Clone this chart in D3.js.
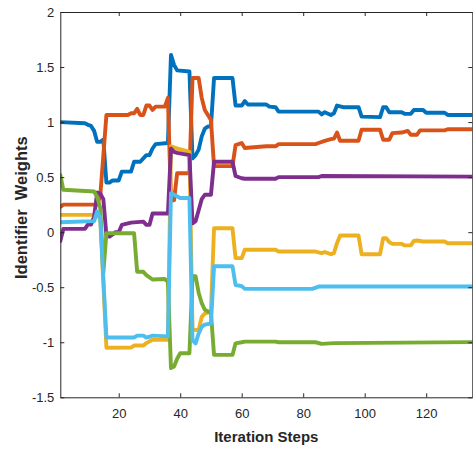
<!DOCTYPE html>
<html>
<head>
<meta charset="utf-8">
<script src="https://cdn.jsdelivr.net/npm/d3@7"></script>
<style>
  html, body { margin: 0; padding: 0; background: #fff; }
  svg { display: block; }
  text { font-family: "Liberation Sans", Arial, sans-serif; fill: #262626; }
</style>
</head>
<body>
<svg id="chart" width="473" height="450"></svg>
<script>
// ---------- data ----------
const xDomain = [1, 135];
const yDomain = [-1.5, 2];
const xTicks = [20, 40, 60, 80, 100, 120];
const xTickLabels = ["20", "40", "60", "80", "100", "120"];
const yTicks = [-1.5, -1, -0.5, 0, 0.5, 1, 1.5, 2];
const yTickLabels = ["-1.5", "-1", "-0.5", "0", "0.5", "1", "1.5", "2"];
const xLabel = "Iteration Steps";
const yLabel = "Identifier  Weights";

const seriesNames = ["w1", "w2", "w3", "w4", "w5", "w6"];
const seriesColors = ["#0072BD", "#D95319", "#EDB120", "#7E2F8E", "#77AC30", "#4DBEEE"];

// [iteration step, weight]
const w1 = [[1,1.00],[9,0.99],[10,0.975],[11,0.965],[12,0.92],[13,0.82],[14,0.82],[15,0.84],[16,0.45],[17,0.45],[18,0.47],[20,0.47],[21,0.55],[24,0.55],[25,0.64],[27,0.64],[28,0.67],[29,0.70],[30,0.70],[31,0.76],[32,0.80],[36,0.81],[37,1.61],[38,1.52],[39,1.47],[43,1.46],[44,0.67],[45,0.70],[46,0.75],[47,0.87],[48,0.94],[49,0.96],[50,0.96],[51,1.40],[57,1.40],[58,1.15],[60,1.15],[61,1.19],[62,1.16],[68,1.16],[69,1.14],[71,1.135],[72,1.095],[85,1.095],[86,1.07],[87,1.09],[89,1.065],[90,1.08],[91,1.15],[93,1.135],[98,1.135],[99,1.05],[105,1.045],[106,1.135],[107,1.135],[108,1.09],[112,1.09],[113,1.075],[115,1.075],[116,1.11],[119,1.11],[120,1.085],[126,1.085],[127,1.065],[135,1.065]];
const w2 = [[1,0.23],[2,0.25],[13,0.25],[14,0.33],[16,1.065],[23,1.065],[24,1.08],[25,1.08],[26,1.12],[27,1.065],[28,1.065],[29,1.15],[30,1.15],[31,1.11],[32,1.14],[35,1.14],[36,1.22],[37,0.29],[38,0.29],[39,0.535],[43,0.535],[44,1.40],[46,1.40],[47,1.22],[48,1.11],[49,1.065],[50,1.02],[51,0.60],[57,0.60],[58,0.79],[60,0.81],[61,0.765],[68,0.78],[71,0.78],[72,0.80],[84,0.80],[85,0.81],[87,0.83],[89,0.845],[90,0.85],[91,0.905],[92,0.83],[98,0.83],[99,0.93],[105,0.93],[106,0.84],[108,0.84],[109,0.90],[112,0.905],[114,0.92],[115,0.885],[117,0.885],[118,0.925],[126,0.925],[127,0.935],[135,0.935]];
const w3 = [[1,0.157],[13,0.157],[14,0.12],[16,-1.05],[24,-1.048],[25,-1.03],[28,-1.03],[29,-1.008],[31,-0.978],[36,-0.978],[37,0.78],[38,0.77],[39,0.76],[43,0.73],[44,-0.887],[46,-0.89],[47,-0.77],[48,-0.74],[50,-0.72],[51,0.036],[57,0.036],[58,-0.236],[60,-0.236],[61,-0.16],[71,-0.16],[72,-0.176],[84,-0.176],[86,-0.19],[87,-0.18],[89,-0.20],[90,-0.19],[91,-0.1],[92,-0.03],[98,-0.03],[99,-0.20],[105,-0.20],[106,-0.055],[107,-0.055],[108,-0.09],[109,-0.106],[112,-0.106],[113,-0.12],[115,-0.12],[116,-0.08],[117,-0.076],[119,-0.085],[126,-0.085],[127,-0.10],[135,-0.10]];
const w4 = [[1,-0.08],[2,0.03],[9,0.03],[10,0.07],[11,0.07],[12,0.14],[13,0.36],[14,0.35],[15,0.30],[16,-0.03],[17,-0.04],[19,0.0],[20,0.0],[21,0.066],[24,0.087],[28,0.096],[29,0.066],[30,0.066],[31,0.17],[36,0.17],[37,0.76],[38,0.73],[39,0.72],[43,0.70],[44,0.08],[45,0.10],[46,0.20],[47,0.30],[48,0.34],[50,0.34],[51,0.64],[57,0.64],[58,0.51],[60,0.49],[61,0.485],[71,0.485],[72,0.50],[85,0.50],[86,0.51],[135,0.505]];
const w5 = [[1,0.52],[2,0.385],[12,0.37],[13,0.32],[14,0.22],[15,-0.37],[16,-0.01],[25,-0.01],[26,-0.36],[28,-0.36],[29,-0.39],[31,-0.43],[35,-0.425],[36,-0.45],[37,-1.235],[38,-1.22],[39,-1.15],[40,-1.10],[43,-1.10],[44,-0.40],[45,-0.40],[46,-0.55],[47,-0.645],[48,-0.705],[50,-0.735],[51,-1.115],[57,-1.115],[58,-1.01],[60,-1.0],[61,-0.994],[71,-0.994],[72,-1.0],[84,-1.0],[86,-1.015],[90,-1.008],[135,-0.999]];
const w6 = [[1,0.09],[12,0.10],[13,0.19],[14,0.13],[16,-0.957],[25,-0.957],[26,-0.94],[28,-0.94],[29,-0.957],[30,-0.95],[31,-0.94],[36,-0.947],[37,0.355],[38,0.34],[40,0.31],[43,0.31],[44,-0.98],[45,-1.01],[46,-0.92],[47,-0.86],[48,-0.84],[50,-0.83],[51,-0.31],[57,-0.31],[58,-0.48],[60,-0.49],[61,-0.515],[83,-0.515],[85,-0.494],[135,-0.494]];

const seriesData = [w1, w2, w3, w4, w5, w6];

// ---------- layout ----------
const plotL = 60.3, plotR = 472.3, plotT = 12, plotB = 397.3;
const axisColor = "#262626";

const svg = d3.select("#chart");
const x = d3.scaleLinear().domain(xDomain).range([plotL, plotR]);
const y = d3.scaleLinear().domain(yDomain).range([plotB, plotT]);

// clip
svg.append("defs").append("clipPath").attr("id", "plotclip")
  .append("rect").attr("x", plotL).attr("y", plotT).attr("width", plotR - plotL).attr("height", plotB - plotT);

// lines
const line = d3.line().x(d => x(d[0])).y(d => y(d[1]));
svg.append("g").attr("clip-path", "url(#plotclip)")
  .selectAll("path").data(seriesData).join("path")
  .attr("d", line)
  .attr("fill", "none")
  .attr("stroke", (d, i) => seriesColors[i])
  .attr("stroke-width", 3.9)
  .attr("stroke-linejoin", "round")
  .attr("stroke-linecap", "round");

// axes
function styleAxis(g) {
  g.selectAll(".domain").attr("stroke", axisColor).attr("stroke-width", 1);
  g.selectAll(".tick line").attr("stroke", axisColor).attr("stroke-width", 1);
  g.selectAll(".tick text").attr("fill", axisColor)
    .style("font-family", '"Liberation Sans", Arial, sans-serif').style("font-size", "13px");
}

const xAxis = d3.axisBottom(x).tickValues(xTicks)
  .tickFormat((d, i) => xTickLabels[i]).tickSizeInner(-4).tickSizeOuter(0).tickPadding(11);
svg.append("g").attr("transform", `translate(0,${plotB})`).call(xAxis).call(styleAxis);

const xAxisTop = d3.axisTop(x).tickValues(xTicks).tickFormat("").tickSizeInner(-4).tickSizeOuter(0);
svg.append("g").attr("transform", `translate(0,${plotT})`).call(xAxisTop).call(styleAxis);

const yAxis = d3.axisLeft(y).tickValues(yTicks)
  .tickFormat((d, i) => yTickLabels[i]).tickSizeInner(-4).tickSizeOuter(0).tickPadding(6);
svg.append("g").attr("transform", `translate(${plotL},0)`).call(yAxis).call(styleAxis);

const yAxisRight = d3.axisRight(y).tickValues(yTicks).tickFormat("").tickSizeInner(-4).tickSizeOuter(0);
svg.append("g").attr("transform", `translate(${plotR},0)`).call(yAxisRight).call(styleAxis);

// axis labels
svg.append("text")
  .attr("x", (plotL + plotR) / 2).attr("y", 442)
  .attr("text-anchor", "middle")
  .style("font-size", "15px").style("font-weight", "bold")
  .text(xLabel);

svg.append("text")
  .attr("transform", `translate(27,${(plotT + plotB) / 2 + 3}) rotate(-90)`)
  .attr("text-anchor", "middle")
  .style("font-size", "16.5px").style("font-weight", "bold")
  .style("white-space", "pre")
  .text(yLabel);
</script>
</body>
</html>
